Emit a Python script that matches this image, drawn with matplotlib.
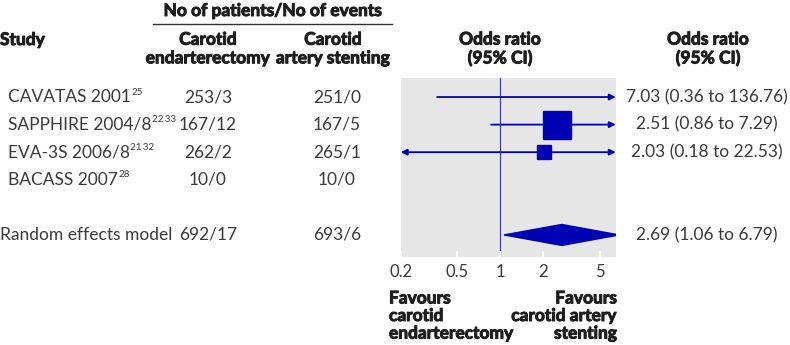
import matplotlib
matplotlib.use('Agg')
import matplotlib.pyplot as plt
import matplotlib.patheffects as pe
import numpy as np

plt.rcParams['font.family'] = ['Lato', 'DejaVu Sans']

# data
studies = ['CAVATAS 2001', 'SAPPHIRE 2004/8', 'EVA-3S 2006/8', 'BACASS 2007']
refs = ['25', '22\u200933', '21\u200932', '28']
cea = ['253/3', '167/12', '262/2', '10/0']
cas = ['251/0', '167/5', '265/1', '10/0']
or_est = [7.03, 2.51, 2.03, np.nan]
ci_lo = [0.36, 0.86, 0.18, np.nan]
ci_hi = [136.76, 7.29, 22.53, np.nan]
weights = [6.5, 75.0, 18.5, 0.0]

pooled_name = 'Random effects model'
pooled_cea = '692/17'
pooled_cas = '693/6'
pooled_est, pooled_lo, pooled_hi = 2.69, 1.06, 6.79

xticks = [0.2, 0.5, 1, 2, 5]

W, H = 790, 345
blue = '#0000b4'
txt = '#3a3a3a'
hdr = '#1e1e1e'

fig = plt.figure(figsize=(W / 100, H / 100), dpi=100)
# panel in pixel terms: x 400.7..615.7, y 78..257
ax = fig.add_axes([400.7 / W, 1 - 257 / H, 215 / W, 179 / H])
ax.set_facecolor('#e6e6e6')
ax.set_xscale('log')
xmin, xmax = 0.2, 6.42
ax.set_xlim(xmin, xmax)
ax.set_ylim(5.8, -0.69)
for s in ax.spines.values():
    s.set_visible(False)
ax.set_yticks([])
ax.set_xticks(xticks)
ax.set_xticklabels([str(t) for t in xticks])
ax.minorticks_off()
ax.tick_params(axis='x', direction='in', length=4, color='white', width=1.5,
               labelsize=12, labelcolor=txt, pad=5)

ax.axvline(1, color='#4040a8', lw=0.9, zorder=1)

rows = list(range(len(studies)))
pooled_row = len(studies) + 1

for y, est, lo, hi, w in zip(rows, or_est, ci_lo, ci_hi, weights):
    if np.isnan(est):
        continue
    a = max(lo, xmin)
    b = min(hi, xmax)
    left = lo < xmin
    right = hi > xmax
    style = {(True, True): '<|-|>', (False, True): '-|>',
             (True, False): '<|-', (False, False): '-'}[(left, right)]
    ax.annotate('', xy=(b, y), xytext=(a, y),
                arrowprops=dict(arrowstyle=style, color=blue, lw=1.3,
                                mutation_scale=9, shrinkA=0, shrinkB=0),
                zorder=3)
    if xmin < est < xmax:
        side = 3.23 * np.sqrt(w) * 0.72  # pixels -> points
        ax.plot(est, y, marker='s', ms=side, color=blue, mec=blue, zorder=4)

# pooled diamond
h = 0.38
ax.fill([pooled_lo, pooled_est, pooled_hi, pooled_est],
        [pooled_row, pooled_row - h, pooled_row, pooled_row + h],
        color=blue, zorder=4, clip_on=True)

# table text, rows tied to the axes data y
tr = matplotlib.transforms.blended_transform_factory(fig.transFigure, ax.transData)
fs = 12.5

for y, name, ref, c1, c2, est, lo, hi in zip(rows, studies, refs, cea, cas,
                                              or_est, ci_lo, ci_hi):
    t = fig.text(8 / W, y, name, transform=tr, ha='left', va='center',
                 fontsize=fs, color=txt)
    ax.annotate(ref, xy=(1, 0.8), xycoords=t, xytext=(0.3, 0),
                textcoords='offset points', ha='left', va='center',
                fontsize=7, color=txt, annotation_clip=False)
    fig.text(208 / W, y, c1, transform=tr, ha='center', va='center',
             fontsize=fs, color=txt)
    fig.text(337 / W, y, c2, transform=tr, ha='center', va='center',
             fontsize=fs, color=txt)
    if not np.isnan(est):
        fig.text(707 / W, y, f'{est:.2f} ({lo:.2f} to {hi:.2f})', transform=tr,
                 ha='center', va='center', fontsize=fs, color=txt)

fig.text(0, pooled_row, pooled_name, transform=tr, ha='left', va='center',
         fontsize=fs, color=txt)
fig.text(208 / W, pooled_row, pooled_cea, transform=tr, ha='center',
         va='center', fontsize=fs, color=txt)
fig.text(337 / W, pooled_row, pooled_cas, transform=tr, ha='center',
         va='center', fontsize=fs, color=txt)
fig.text(707 / W, pooled_row,
         f'{pooled_est:.2f} ({pooled_lo:.2f} to {pooled_hi:.2f})',
         transform=tr, ha='center', va='center', fontsize=fs, color=txt)


# headers (pixel positions)
fat = [pe.withStroke(linewidth=0.7, foreground=hdr)]


def ptext(x, y, s, ls=1.2, **kw):
    fig.text(x / W, 1 - y / H, s, fontsize=fs, color=hdr, fontweight='bold',
             va='center', linespacing=ls, path_effects=fat, **kw)


ptext(273, 11, 'No of patients/No of events', ha='center')
fig.add_artist(plt.Line2D([153 / W, 392 / W], [1 - 23.5 / H, 1 - 23.5 / H],
                          color='#333333', lw=1))
ptext(0, 40, 'Study', ha='left')
ptext(208, 49, 'Carotid\nendarterectomy', ha='center', multialignment='center')
ptext(333, 49, 'Carotid\nartery stenting', ha='center', multialignment='center')
ptext(500, 49, 'Odds ratio\n(95% CI)', ha='center', multialignment='center')
ptext(708, 49, 'Odds ratio\n(95% CI)', ha='center', multialignment='center')
ptext(389, 316, 'Favours\ncarotid\nendarterectomy', ls=1.12, ha='left',
      multialignment='left')
ptext(617, 316, 'Favours\ncarotid artery\nstenting', ls=1.12, ha='right',
      multialignment='right')

fig.savefig('out.png', dpi=100, facecolor='white')
